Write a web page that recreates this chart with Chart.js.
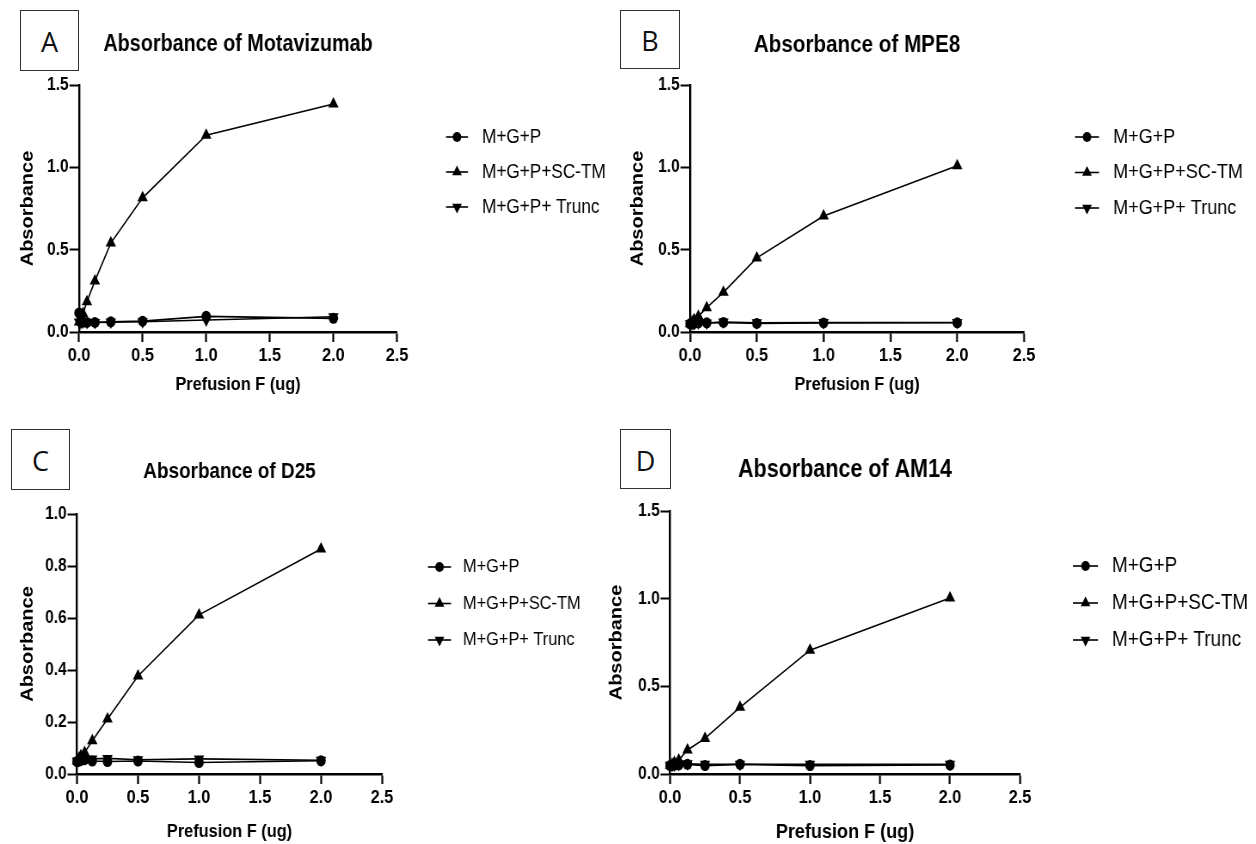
<!DOCTYPE html>
<html><head><meta charset="utf-8">
<script src="https://cdn.jsdelivr.net/npm/chart.js@4.4.1/dist/chart.umd.min.js"></script>
<style>
html,body{margin:0;padding:0;background:#fff;}
#wrap{position:relative;width:1256px;height:844px;overflow:hidden;background:#fff;}
canvas{position:absolute;transform-origin:0 0;}
.box{position:absolute;border:1px solid #333;box-sizing:border-box;display:flex;align-items:center;justify-content:center;font-family:'Open Sans','Noto Sans',sans-serif;font-size:27px;color:#111;padding-top:2px;}
</style></head><body>
<div id="wrap">
<div class="box" style="left:20px;top:10px;width:59px;height:61px;">A</div>
<div class="box" style="left:620px;top:10px;width:60px;height:59px;">B</div>
<div class="box" style="left:11px;top:429px;width:59px;height:61px;">C</div>
<div class="box" style="left:620px;top:429px;width:51px;height:60px;">D</div>
</div>
<script>
// ---- data ----
const doses = [0, 0.015625, 0.03125, 0.0625, 0.125, 0.25, 0.5, 1, 2];
const seriesNames = ['M+G+P', 'M+G+P+SC-TM', 'M+G+P+ Trunc'];
const xTickLabels = ['0.0', '0.5', '1.0', '1.5', '2.0', '2.5'];
const yTickLabels15 = ['0.0', '0.5', '1.0', '1.5'];
const yTickLabels10 = ['0.0', '0.2', '0.4', '0.6', '0.8', '1.0'];
const xAxisTitle = 'Prefusion F (ug)';
const yAxisTitle = 'Absorbance';
const panelTitles = ['Absorbance of Motavizumab', 'Absorbance of MPE8', 'Absorbance of D25', 'Absorbance of AM14'];

const motaMGP   = [0.115, 0.065, 0.060, 0.058, 0.058, 0.062, 0.066, 0.095, 0.083];
const motaSCTM  = [0.060, 0.080, 0.113, 0.184, 0.310, 0.540, 0.815, 1.195, 1.385];
const motaTrunc = [0.060, 0.058, 0.060, 0.058, 0.058, 0.060, 0.062, 0.073, 0.093];

const mpe8MGP   = [0.050, 0.050, 0.052, 0.056, 0.056, 0.058, 0.052, 0.055, 0.056];
const mpe8SCTM  = [0.050, 0.060, 0.075, 0.095, 0.148, 0.241, 0.450, 0.704, 1.010];
const mpe8Trunc = [0.050, 0.050, 0.050, 0.055, 0.055, 0.060, 0.056, 0.058, 0.058];

const d25MGP    = [0.048, 0.050, 0.052, 0.055, 0.050, 0.048, 0.050, 0.044, 0.051];
const d25SCTM   = [0.050, 0.060, 0.070, 0.083, 0.128, 0.212, 0.377, 0.612, 0.865];
const d25Trunc  = [0.050, 0.052, 0.055, 0.060, 0.058, 0.060, 0.055, 0.058, 0.053];

const am14MGP   = [0.048, 0.050, 0.050, 0.052, 0.055, 0.048, 0.055, 0.048, 0.051];
const am14SCTM  = [0.050, 0.055, 0.065, 0.080, 0.137, 0.203, 0.380, 0.706, 1.004];
const am14Trunc = [0.050, 0.050, 0.052, 0.055, 0.058, 0.055, 0.056, 0.056, 0.055];

// ---- styling / layout ----
const SANS = "'Liberation Sans', Arial, sans-serif";
const S = 0.86; // horizontal compression of the original figure

function drawMarker(ctx, style, rot, r, x, y) {
  ctx.beginPath();
  if (style === 'circle') {
    ctx.arc(x, y, r, 0, Math.PI * 2);
  } else {
    const s = rot ? -1 : 1;
    ctx.moveTo(x, y - s * r);
    ctx.lineTo(x + r * 0.866, y + s * r * 0.5);
    ctx.lineTo(x - r * 0.866, y + s * r * 0.5);
    ctx.closePath();
  }
  ctx.fill();
}

const lineLegend = {
  id: 'lineLegend',
  afterDraw(chart, args, o) {
    const ctx = chart.ctx;
    ctx.save();
    ctx.fillStyle = '#000';
    ctx.strokeStyle = '#000';
    chart.data.datasets.forEach((ds, i) => {
      const y = o.y0 + i * o.dy;
      ctx.lineWidth = 1.6;
      ctx.beginPath(); ctx.moveTo(o.x0, y); ctx.lineTo(o.x1, y); ctx.stroke();
      const r = ds.pointStyle === 'circle' ? 5 : 6.5;
      drawMarker(ctx, ds.pointStyle, ds.pointRotation, r, (o.x0 + o.x1) / 2, y);
      ctx.font = o.size + 'px ' + SANS;
      ctx.textBaseline = 'middle';
      ctx.textAlign = 'left';
      ctx.fillText(ds.label, o.tx, y);
    });
    ctx.restore();
  }
};

function makeChart(title, series, yMax, yStep, yLabels, P) {
  // P holds page-pixel layout; convert to the canvas' internal (uncompressed) space
  const W = Math.round(P.cw / S);
  const cv = document.createElement('canvas');
  cv.width = W; cv.height = P.ch;
  cv.style.left = P.cx + 'px'; cv.style.top = P.cy + 'px';
  cv.style.transform = 'scaleX(' + S + ')';
  document.getElementById('wrap').appendChild(cv);
  const ix = v => (v - P.cx) / S;
  const yW = ix(P.L);
  const padRight = W - ix(P.R);
  const xH = P.ch - (P.B - P.cy);
  const titleH = P.T - P.cy;
  const tCY = P.titleCY - P.cy;
  const tlh = P.titleSize * 1.2;
  const xlh = P.xTitleSize * 1.2;
  const legend = {x0: ix(P.lg.x0), x1: ix(P.lg.x1), tx: ix(P.lg.tx), y0: P.lg.y0 - P.cy, dy: P.lg.dy, size: P.lg.size};

  const styles = [
    {pointStyle: 'circle', pointRotation: 0, pointRadius: 5.5},
    {pointStyle: 'triangle', pointRotation: 0, pointRadius: 7},
    {pointStyle: 'triangle', pointRotation: 180, pointRadius: 7}
  ];
  const datasets = series.map((vals, i) => Object.assign({
    label: seriesNames[i],
    data: doses.map((d, j) => ({x: d, y: vals[j]})),
    borderColor: '#000', backgroundColor: '#000',
    pointBackgroundColor: '#000', pointBorderColor: '#000', pointBorderWidth: 0,
    borderWidth: 1.6, showLine: true, clip: false, tension: 0
  }, styles[i]));
  return new Chart(cv, {
    type: 'scatter',
    data: {datasets},
    plugins: [lineLegend],
    options: {
      responsive: false, animation: false, devicePixelRatio: 1,
      layout: {padding: {left: 0, top: 0, right: padRight, bottom: 0}},
      plugins: {
        legend: {display: false},
        tooltip: {enabled: false},
        title: {
          display: true, text: title, fullSize: false, color: '#000',
          font: {family: SANS, size: P.titleSize, weight: 'bold', lineHeight: 1.2},
          padding: {top: tCY - tlh / 2, bottom: titleH - tCY - tlh / 2}
        },
        lineLegend: legend
      },
      scales: {
        x: {
          type: 'linear', min: 0, max: 2.5,
          afterFit: s => { s.height = xH; },
          ticks: {stepSize: 0.5, color: '#000', font: {family: SANS, size: 19, weight: 'bold', lineHeight: 1.2},
                  padding: 2, maxRotation: 0, callback: (v, i) => xTickLabels[i]},
          grid: {display: true, drawOnChartArea: false, drawTicks: true, tickLength: 10, tickWidth: 2.2, tickColor: '#000'},
          border: {display: true, color: '#000', width: 2.4},
          title: {display: true, text: xAxisTitle, color: '#000',
                  font: {family: SANS, size: P.xTitleSize, weight: 'bold', lineHeight: 1.2},
                  padding: {top: 0, bottom: (P.cy + P.ch - P.xTitleCY) - xlh / 2}}
        },
        y: {
          type: 'linear', min: 0, max: yMax,
          afterFit: s => { s.width = yW; },
          ticks: {stepSize: yStep, color: '#000', font: {family: SANS, size: 18, weight: 'bold', lineHeight: 1.2},
                  padding: 1, callback: (v, i) => yLabels[i]},
          grid: {display: true, drawOnChartArea: false, drawTicks: true, tickLength: 11, tickWidth: 2, tickColor: '#000'},
          border: {display: true, color: '#000', width: 2.4},
          title: {display: true, text: yAxisTitle, color: '#000',
                  font: {family: SANS, size: 20, weight: 'bold', lineHeight: 1.2},
                  padding: {top: ix(P.yTitleCX) - 12, bottom: 0}}
        }
      }
    }
  });
}

makeChart(panelTitles[0], [motaMGP, motaSCTM, motaTrunc], 1.5, 0.5, yTickLabels15,
  {cx: 0, cy: 0, cw: 610, ch: 420, L: 79, T: 85, R: 397, B: 332,
   titleCY: 45, titleSize: 23, xTitleCY: 385, xTitleSize: 19, yTitleCX: 28,
   lg: {x0: 446, x1: 468, tx: 482, y0: 137, dy: 35, size: 20}});
makeChart(panelTitles[1], [mpe8MGP, mpe8SCTM, mpe8Trunc], 1.5, 0.5, yTickLabels15,
  {cx: 610, cy: 0, cw: 646, ch: 420, L: 690, T: 85, R: 1024, B: 332,
   titleCY: 45, titleSize: 24, xTitleCY: 385, xTitleSize: 19, yTitleCX: 638,
   lg: {x0: 1075, x1: 1099, tx: 1113, y0: 137, dy: 35.5, size: 21}});
makeChart(panelTitles[2], [d25MGP, d25SCTM, d25Trunc], 1.0, 0.2, yTickLabels10,
  {cx: 0, cy: 420, cw: 600, ch: 424, L: 77, T: 514, R: 382, B: 774,
   titleCY: 472, titleSize: 22, xTitleCY: 832, xTitleSize: 19, yTitleCX: 28,
   lg: {x0: 428, x1: 451, tx: 463, y0: 567, dy: 36.5, size: 19}});
makeChart(panelTitles[3], [am14MGP, am14SCTM, am14Trunc], 1.5, 0.5, yTickLabels15,
  {cx: 600, cy: 420, cw: 656, ch: 424, L: 670, T: 511, R: 1020, B: 774,
   titleCY: 470, titleSize: 25, xTitleCY: 832, xTitleSize: 21, yTitleCX: 617,
   lg: {x0: 1073, x1: 1098, tx: 1112, y0: 566, dy: 37, size: 22}});
</script>
</body></html>
